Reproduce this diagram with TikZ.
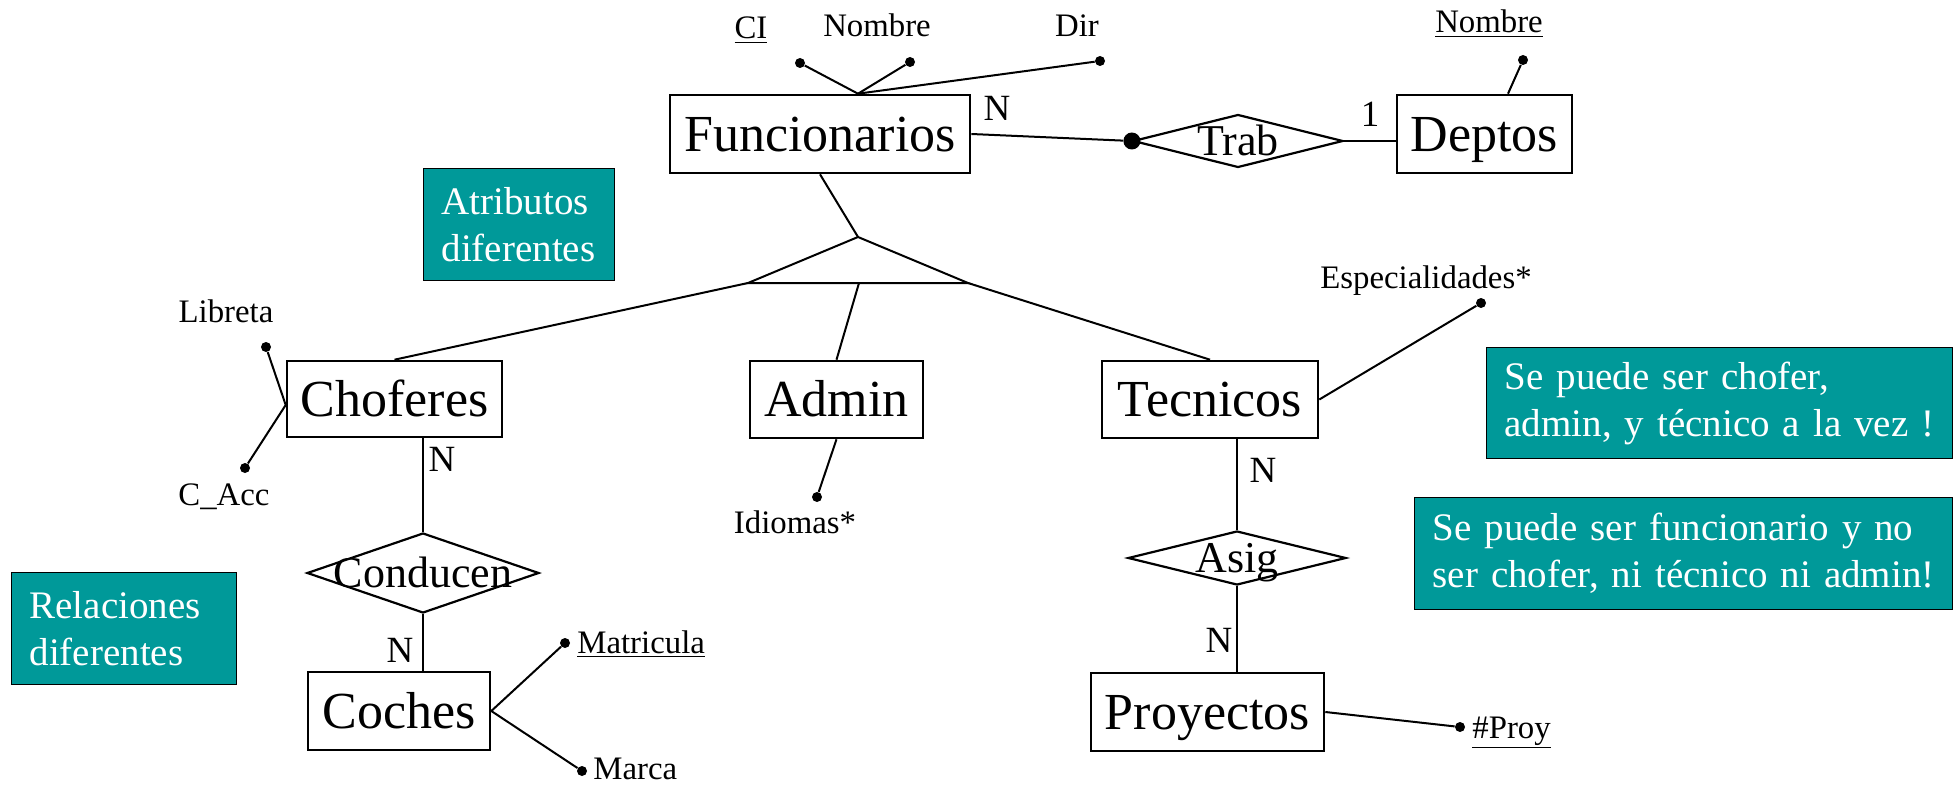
\documentclass[tikz,border=0pt]{standalone}
\usepackage{fontspec}
\setmainfont{Liberation Serif}
\usetikzlibrary{shapes.geometric,calc}
\definecolor{verdeazul}{RGB}{0,153,153}

\begin{document}
\begin{tikzpicture}[x=0.5pt,y=-0.5pt,
  entidad/.style={draw,line width=1.3pt,minimum height=39pt,inner sep=0pt,font=\fontsize{26}{30}\selectfont,text height=17.2pt,text depth=0pt},
  relacion/.style={draw,line width=1.1pt,shape=diamond,inner sep=0pt},
  reltxt/.style={inner sep=0pt,font=\fontsize{22}{26}\selectfont,text height=14.5pt,text depth=0pt},
  atrib/.style={anchor=base,inner sep=0pt,font=\fontsize{16.4}{19}\selectfont},
  punto/.style={circle,fill,inner sep=0pt,minimum size=5pt},
  card/.style={inner sep=0pt,font=\fontsize{18.5}{22}\selectfont,text height=12.2pt,text depth=0pt},
  nota/.style={draw,line width=0.6pt,fill=verdeazul,text=white,anchor=north west,align=left,inner xsep=9pt,inner ysep=0pt,font=\fontsize{19.5}{23.5}\selectfont},
  linea/.style={line width=1pt}]
\useasboundingbox (0,0) rectangle (1953,786);

\node[entidad,minimum width=150pt] (func) at (820,134) {Funcionarios};
\node[entidad,minimum width=87.5pt] (deptos) at (1484.5,134) {Deptos};
\node[relacion,minimum width=105pt,minimum height=26.5pt,label={[reltxt]center:Trab}] (trab) at (1238,141) {};
\node[punto,minimum size=8.5pt] (trabp) at (trab.west) {};

\node[punto] (ci) at (800,63) {};
\node[atrib] (ciT) at (751,39) {\underline{CI}};
\node[punto] (nom) at (910,62) {};
\node[atrib] (nomT) at (877,37) {Nombre};
\node[punto] (dir) at (1100,61) {};
\node[atrib] (dirT) at (1077,37) {Dir};
\node[punto] (dnom) at (1523,60) {};
\node[atrib] (dnomT) at (1489,33) {\underline{Nombre}};

\coordinate (funcA) at ($(func.north)+(38,0)$);
\draw[linea] (ci) -- (funcA) -- (nom);
\draw[linea] (funcA) -- (dir);
\draw[linea] (func.east) -- (trabp);
\draw[linea] (trab.east) -- (trab.east -| deptos.west);
\draw[linea] (dnom) -- ($(deptos.north)+(23.5,0)$);
\node[card] (nF) at (997,108) {N};
\node[card] (unoD) at (1370,114) {1};

\coordinate (isa) at (858,237);
\coordinate (isaI) at (748,283);
\coordinate (isaD) at (968,283);
\coordinate (isaM) at (859,283);
\draw[linea] (func.south) -- (isa);
\draw[linea] (isa) -- (isaI) -- (isaD) -- cycle;

\node[entidad,minimum width=107.5pt,minimum height=38pt] (chof) at (394.5,399) {Choferes};
\node[entidad,minimum width=86.5pt,minimum height=38.5pt] (admin) at (836.5,399.5) {Admin};
\node[entidad,minimum width=108pt,minimum height=38.5pt] (tec) at (1210,399.5) {Tecnicos};
\draw[linea] (isaI) -- (chof.north);
\draw[linea] (isaM) -- (admin.north);
\draw[linea] (isaD) -- (tec.north);

\node[punto] (lib) at (266,347) {};
\node[atrib] (libT) at (226,322) {Libreta};
\node[punto] (cacc) at (245,468) {};
\node[atrib] (caccT) at (224,505) {C\_Acc};
\draw[linea] (lib) -- ($(chof.west)+(0,6)$) -- (cacc);

\node[relacion,minimum width=116pt,minimum height=40pt,label={[reltxt]center:Conducen}] (conduc) at (423,573) {};
\node[entidad,minimum width=91pt] (coches) at (399,711) {Coches};
\draw[linea] (conduc.north |- chof.south) -- (conduc.north);
\draw[linea] (conduc.south) -- (conduc.south |- coches.north);
\node[card] (nC) at (442,459) {N};
\node[card] (nCo) at (400,650) {N};

\node[punto] (mat) at (565,643) {};
\node[atrib,anchor=base west] (matT) at (577,653) {\underline{Matricula}};
\node[punto] (marca) at (582,771) {};
\node[atrib,anchor=base west] (marcaT) at (593,779) {Marca};
\draw[linea] (mat) -- (coches.east) -- (marca);

\node[punto] (idi) at (817,497) {};
\node[atrib] (idiT) at (795,533) {Idiomas*};
\draw[linea] (admin.south) -- (idi);

\node[punto] (esp) at (1481,303) {};
\node[atrib] (espT) at (1426,288) {Especialidades*};
\draw[linea] (tec.east) -- (esp);

\node[relacion,minimum width=109pt,minimum height=27pt,label={[reltxt]center:Asig}] (asig) at (1237,558) {};
\node[entidad,minimum width=116.5pt] (proy) at (1207.5,712) {Proyectos};
\draw[linea] (asig.north |- tec.south) -- (asig.north);
\draw[linea] (asig.south) -- (asig.south |- proy.north);
\node[card] (nT) at (1263,470) {N};
\node[card] (nP) at (1219,640) {N};

\node[punto] (nproy) at (1460,727) {};
\node[atrib,anchor=base west] (nproyT) at (1472,738) {\underline{\#Proy}};
\draw[linea] (proy.east) -- (nproy);

\node[nota,minimum width=95.5pt,minimum height=56pt,text width=77.5pt] (notaA) at (423,168) {Atributos\\diferentes};
\node[nota,minimum width=112.5pt,minimum height=56pt,text width=94.5pt] (notaR) at (11,572) {Relaciones\\diferentes};
\node[nota,minimum width=233pt,minimum height=55.5pt,text width=215pt] (nota1) at (1486,347) {Se puede ser chofer,\\admin, y técnico a la vez !};
\node[nota,minimum width=269pt,minimum height=56pt,text width=251pt] (nota2) at (1414,497) {Se puede ser funcionario y no\\ser chofer, ni técnico ni admin!};

\end{tikzpicture}
\end{document}
